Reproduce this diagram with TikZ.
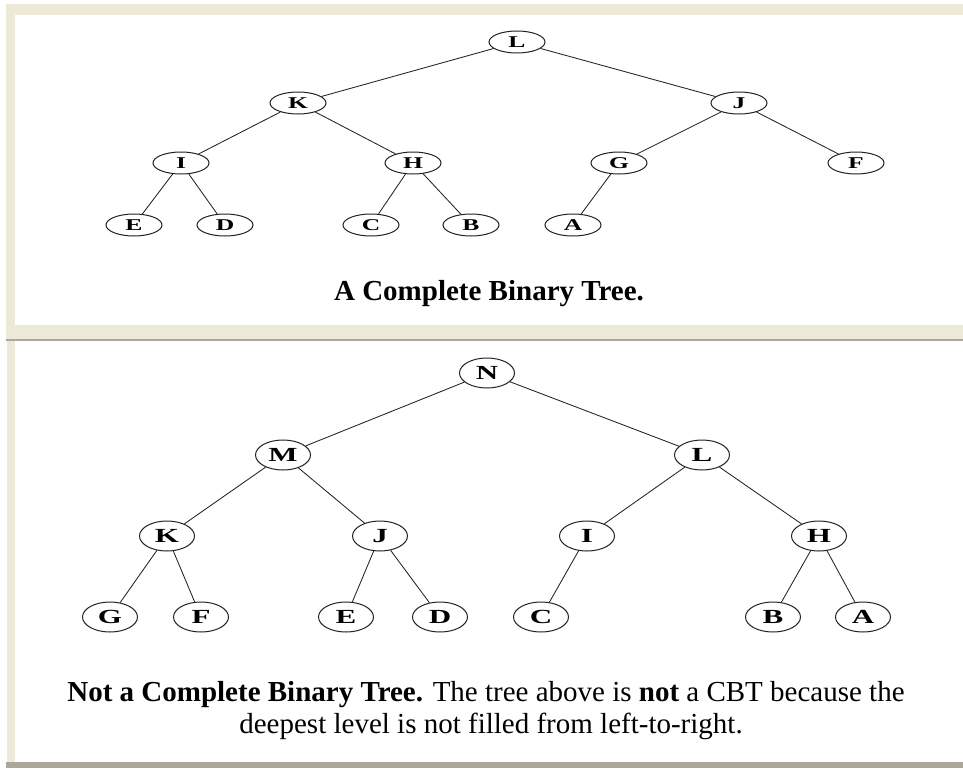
\documentclass[tikz,border=0pt]{standalone}
\usepackage{fontspec}
\setmainfont{Liberation Serif}
\usetikzlibrary{shapes.geometric}
\definecolor{panelbeige}{RGB}{236,233,216}
\definecolor{panelshade}{RGB}{172,168,153}
\definecolor{edgegray}{RGB}{35,35,35}
% horizontally widened node letters
\newcommand{\wideletter}[1]{\scalebox{1.55}[1]{#1}}
\begin{document}
\begin{tikzpicture}[x=1pt,y=-1pt,
  tnode/.style={ellipse, draw=edgegray, line width=1pt, fill=white,
    minimum width=56pt, minimum height=22pt, inner sep=0pt,
    font=\fontsize{16.5}{16.5}\selectfont\bfseries},
  bnode/.style={tnode, minimum width=55pt, minimum height=30pt,
    font=\fontsize{20}{20}\selectfont\bfseries},
  link/.style={draw=edgegray, line width=0.85pt},
  caption/.style={font=\fontsize{29}{32}\selectfont, anchor=base, inner sep=0pt}]

\useasboundingbox (0,0) rectangle (963,768);
\fill[white] (0,0) rectangle (963,768);

% panel frame
\fill[panelbeige] (6,4) rectangle (963,15);
\fill[panelbeige] (6,4) rectangle (15,325);
\fill[panelbeige] (6,325) rectangle (963,339);
\fill[panelshade] (6,339) rectangle (963,341);
\fill[panelbeige] (7,341) rectangle (15,762);
\fill[panelshade] (6,762) rectangle (963,768);

% complete binary tree
\node[tnode] (tL) at (517,42)  {\wideletter{L}};
\node[tnode] (tK) at (298,103) {\wideletter{K}};
\node[tnode] (tJ) at (739,103) {\wideletter{J}};
\node[tnode] (tI) at (181,163) {\wideletter{I}};
\node[tnode] (tH) at (413,163) {\wideletter{H}};
\node[tnode] (tG) at (619,163) {\wideletter{G}};
\node[tnode] (tF) at (856,163) {\wideletter{F}};
\node[tnode] (tE) at (134,225) {\wideletter{E}};
\node[tnode] (tD) at (225,225) {\wideletter{D}};
\node[tnode] (tC) at (371,225) {\wideletter{C}};
\node[tnode] (tB) at (471,225) {\wideletter{B}};
\node[tnode] (tA) at (573,225) {\wideletter{A}};

\draw[link] (tL) -- (tK);
\draw[link] (tL) -- (tJ);
\draw[link] (tK) -- (tI);
\draw[link] (tK) -- (tH);
\draw[link] (tJ) -- (tG);
\draw[link] (tJ) -- (tF);
\draw[link] (tI) -- (tE);
\draw[link] (tI) -- (tD);
\draw[link] (tH) -- (tC);
\draw[link] (tH) -- (tB);
\draw[link] (tG) -- (tA);

\node[caption] (cap1) at (489,300) {\bfseries A Complete Binary Tree.};

% tree that is not complete
\node[bnode] (bN) at (487,373) {\wideletter{N}};
\node[bnode] (bM) at (283,455) {\wideletter{M}};
\node[bnode] (bL) at (702,455) {\wideletter{L}};
\node[bnode] (bK) at (167,536) {\wideletter{K}};
\node[bnode] (bJ) at (380,536) {\wideletter{J}};
\node[bnode] (bI) at (587,536) {\wideletter{I}};
\node[bnode] (bH) at (819,536) {\wideletter{H}};
\node[bnode] (bG) at (110,617) {\wideletter{G}};
\node[bnode] (bF) at (201,617) {\wideletter{F}};
\node[bnode] (bE) at (346,617) {\wideletter{E}};
\node[bnode] (bD) at (440,617) {\wideletter{D}};
\node[bnode] (bC) at (541,617) {\wideletter{C}};
\node[bnode] (bB) at (773,617) {\wideletter{B}};
\node[bnode] (bA) at (863,617) {\wideletter{A}};

\draw[link] (bN) -- (bM);
\draw[link] (bN) -- (bL);
\draw[link] (bM) -- (bK);
\draw[link] (bM) -- (bJ);
\draw[link] (bL) -- (bI);
\draw[link] (bL) -- (bH);
\draw[link] (bK) -- (bG);
\draw[link] (bK) -- (bF);
\draw[link] (bJ) -- (bE);
\draw[link] (bJ) -- (bD);
\draw[link] (bI) -- (bC);
\draw[link] (bH) -- (bB);
\draw[link] (bH) -- (bA);

\node[caption] (cap2a) at (486,701) {\textbf{Not a Complete Binary Tree.} The tree above is \textbf{not} a CBT because the};
\node[caption] (cap2b) at (491,733) {deepest level is not filled from left-to-right.};

\end{tikzpicture}
\end{document}
